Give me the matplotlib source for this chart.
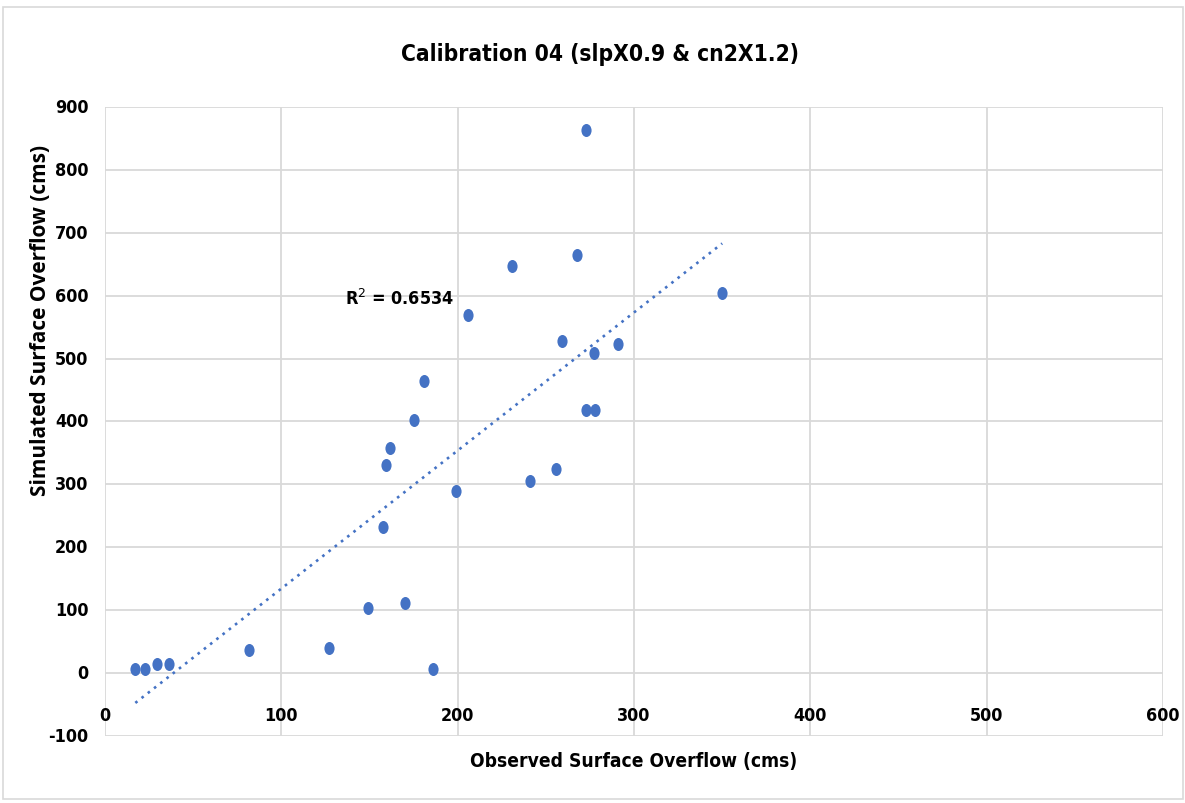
import matplotlib
matplotlib.use("Agg")
import matplotlib.pyplot as plt
import numpy as np
from matplotlib.path import Path
from matplotlib.patches import Rectangle
from matplotlib import font_manager
from matplotlib.ft2font import FT2Font

# Observed vs simulated surface overflow (cms)
observed = [17.2, 22.5, 29.3, 36.4, 81.5, 127.0, 148.9, 169.9, 186.0, 157.5,
            159.6, 161.5, 175.4, 180.7, 199.2, 205.9, 231.0, 241.0, 256.0, 258.9,
            267.9, 272.6, 272.6, 277.3, 277.9, 290.7, 350.0]
simulated = [6, 6, 15, 15, 37, 40, 104, 112, 6, 232,
             331, 358, 402, 465, 290, 570, 647, 305, 324, 528,
             665, 864, 418, 509, 418, 524, 604]

x_ticks = [0, 100, 200, 300, 400, 500, 600]
y_ticks = [-100, 0, 100, 200, 300, 400, 500, 600, 700, 800, 900]
title = "Calibration 04 (slpX0.9 & cn2X1.2)"
x_label = "Observed Surface Overflow (cms)"
y_label = "Simulated Surface Overflow (cms)"
r2_text = "R$^2$ = 0.6534"

blue = "#4472C4"
grid_gray = "#d9d9d9"

needed = set(title + x_label + y_label + "R=0123456789.-")


def covers(fname):
    try:
        cmap = FT2Font(fname).get_charmap()
    except Exception:
        return False
    return all(ord(ch) in cmap for ch in needed if ch != " ")


# a condensed bold face for the chart text
narrow_file = None
for f in sorted(font_manager.fontManager.ttflist, key=lambda f: f.fname):
    nm = f.name + " " + f.fname
    if ("Narrow" in nm or "Condensed" in nm) and "Bold" in f.fname and covers(f.fname):
        narrow_file = f.fname
        break
if narrow_file is None:
    for f in sorted(font_manager.fontManager.ttflist, key=lambda f: f.fname):
        nm = f.name + " " + f.fname
        if ("Narrow" in nm or "Condensed" in nm) and covers(f.fname):
            narrow_file = f.fname
            break

SCALE = 0.86


def tfont(size):
    size = size * SCALE
    if narrow_file:
        fp = font_manager.FontProperties(fname=narrow_file, size=size, weight="bold")
        return dict(fontproperties=fp)
    return dict(fontfamily="DejaVu Sans", fontweight="bold", fontsize=size * 0.85)


fig = plt.figure(figsize=(11.85, 8.04), dpi=100)
ax = fig.add_axes([105 / 1185, 1 - 737 / 804, (1163 - 105) / 1185, (737 - 108) / 804])

# chart frame
fig.patches.append(Rectangle((3 / 1185, 4 / 804), 1180 / 1185, 792 / 804,
                             transform=fig.transFigure, fill=False,
                             edgecolor=grid_gray, linewidth=1.2))

ax.set_xlim(0, 600)
ax.set_ylim(-100, 900)
ax.set_xticks(x_ticks)
ax.set_yticks(y_ticks)
ax.grid(True, color=grid_gray, linewidth=1.3)
ax.set_axisbelow(True)
for s in ax.spines.values():
    s.set_visible(False)
ax.tick_params(length=0)
ax.set_xticklabels([])
ax.set_yticklabels([])

for t in y_ticks:
    ax.text(-9.5, t, str(t), ha="right", va="center", **tfont(15))

# x tick labels sit just below the zero line
for t in x_ticks:
    ax.text(t, -66, str(t), ha="center", va="center", **tfont(15))

# elliptical markers
ell = Path.unit_circle().transformed(matplotlib.transforms.Affine2D().scale(0.78, 1.0))
ax.scatter(observed, simulated, marker=ell, s=88, color=blue, zorder=3, linewidths=0)

# linear trendline
xo = np.array(observed)
coef = np.polyfit(xo, np.array(simulated), 1)
xs = np.array([xo.min(), xo.max()])
ax.plot(xs, np.polyval(coef, xs), color=blue, linewidth=1.9,
        linestyle=(0, (1, 2.0)), zorder=2)

ax.text(136, 596, r2_text, ha="left", va="center", **tfont(15))

fig.text(600 / 1185, 1 - 55 / 804, title, ha="center", va="center", **tfont(19))
fig.text(634 / 1185, 1 - 762 / 804, x_label, ha="center", va="center", **tfont(16))
fig.text(41 / 1185, 1 - 320 / 804, y_label, ha="center", va="center",
         rotation=90, fontfamily="Open Sans", fontweight="bold", fontsize=15)

fig.savefig("out.png", dpi=100)
